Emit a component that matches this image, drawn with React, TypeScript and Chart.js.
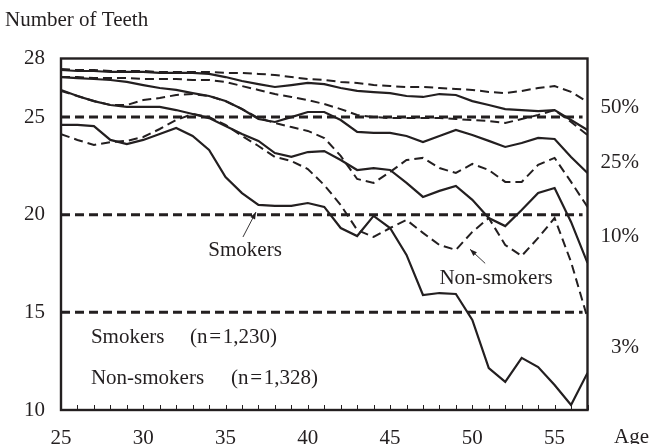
import React, { useEffect, useRef } from "react";
import { Chart, registerables } from "chart.js";

Chart.register(...registerables);

// ---------- data ----------
const ages = [25, 26, 27, 28, 29, 30, 31, 32, 33, 34, 35, 36, 37, 38, 39, 40, 41, 42, 43, 44, 45, 46, 47, 48, 49, 50, 51, 52, 53, 54, 55, 56, 57];

const smokers50 = [27.41, 27.36, 27.36, 27.31, 27.31, 27.31, 27.26, 27.26, 27.26, 27.21, 27.05, 26.85, 26.69, 26.54, 26.64, 26.75, 26.69, 26.49, 26.34, 26.28, 26.23, 26.08, 26.03, 26.18, 26.13, 25.82, 25.62, 25.41, 25.36, 25.31, 25.36, 24.85, 24.34];
const smokers25 = [27.05, 27.0, 26.95, 26.9, 26.8, 26.64, 26.49, 26.39, 26.23, 26.08, 25.82, 25.41, 24.9, 24.75, 25.0, 25.26, 25.26, 24.85, 24.24, 24.19, 24.19, 24.03, 23.72, 24.03, 24.34, 24.08, 23.78, 23.47, 23.67, 23.93, 23.88, 22.96, 22.14];
const smokers10 = [26.39, 26.08, 25.82, 25.62, 25.52, 25.52, 25.52, 25.36, 25.16, 24.95, 24.54, 24.13, 23.78, 23.16, 22.96, 23.21, 23.26, 22.8, 22.29, 22.39, 22.29, 21.63, 20.91, 21.22, 21.47, 20.76, 19.83, 19.42, 20.24, 21.11, 21.37, 19.63, 17.53];
const smokers3 = [24.6, 24.6, 24.54, 23.83, 23.62, 23.83, 24.13, 24.44, 24.03, 23.32, 21.93, 21.11, 20.5, 20.45, 20.45, 20.6, 20.4, 19.32, 18.91, 19.94, 19.32, 17.94, 15.89, 15.99, 15.94, 14.61, 12.15, 11.44, 12.67, 12.2, 11.28, 10.26, 11.9];

const nonSmokers50 = [27.46, 27.41, 27.41, 27.36, 27.36, 27.36, 27.31, 27.31, 27.31, 27.31, 27.26, 27.26, 27.21, 27.16, 27.05, 26.95, 26.9, 26.8, 26.75, 26.64, 26.59, 26.54, 26.54, 26.49, 26.44, 26.39, 26.29, 26.23, 26.34, 26.49, 26.59, 26.29, 25.77];
const nonSmokers25 = [27.05, 27.05, 27.0, 27.0, 27.0, 26.95, 26.95, 26.95, 26.9, 26.9, 26.8, 26.59, 26.39, 26.18, 26.03, 25.87, 25.67, 25.41, 25.11, 25.0, 24.95, 24.95, 24.95, 24.95, 24.9, 24.85, 24.8, 24.7, 24.9, 25.11, 25.36, 24.75, 24.08];
const nonSmokers10 = [26.34, 26.08, 25.82, 25.62, 25.62, 25.87, 25.98, 26.13, 26.18, 26.08, 25.82, 25.41, 24.95, 24.7, 24.49, 24.29, 23.93, 23.01, 21.83, 21.63, 22.19, 22.8, 22.91, 22.39, 22.14, 22.6, 22.29, 21.68, 21.68, 22.55, 22.91, 21.68, 20.4];
const nonSmokers3 = [24.13, 23.83, 23.57, 23.72, 23.78, 23.98, 24.39, 24.85, 25.16, 25.0, 24.6, 24.03, 23.52, 22.96, 22.75, 22.34, 21.52, 20.5, 19.22, 18.86, 19.32, 19.73, 19.07, 18.45, 18.2, 19.12, 19.83, 18.45, 17.89, 18.81, 19.83, 17.58, 14.71];

const yTickValues = [10, 15, 20, 25, 28];
const xTickValues = [25, 30, 35, 40, 45, 50, 55];
const referenceLevels = [15, 20, 25];
const referenceEndAge = 56.7;

const percentileLabels = ["50%", "25%", "10%", "3%"];
const percentileLabelValues = [25.47, 22.65, 18.91, 13.18];

// ---------- styling ----------
const INK = "#231f20";
const FONT = '"Liberation Serif", "Times New Roman", serif';
const FONT_SIZE = 21;

export default function App() {
  const ref = useRef<HTMLCanvasElement>(null);

  useEffect(() => {
    document.body.style.margin = "0";
    const canvas = ref.current!;
    const toPts = (vals: number[]) => ages.map((a, i) => ({ x: a, y: vals[i] }));
    const solid = (label: string, vals: number[]) => ({
      label,
      data: toPts(vals),
      borderColor: INK,
      borderWidth: 2.2,
      pointRadius: 0,
      tension: 0,
      fill: false,
    });
    const dashed = (label: string, vals: number[]) => ({ ...solid(label, vals), borderWidth: 2, borderDash: [9, 5] });
    const refSets = referenceLevels.map((lvl) => ({
      label: "ref" + lvl,
      data: [
        { x: ages[0], y: lvl },
        { x: referenceEndAge, y: lvl },
      ],
      borderColor: INK,
      borderWidth: 3,
      borderDash: [9, 5],
      pointRadius: 0,
      fill: false,
    }));

    const drawArrow = (ctx: CanvasRenderingContext2D, x1: number, y1: number, x2: number, y2: number) => {
      ctx.beginPath();
      ctx.lineWidth = 0.9;
      ctx.moveTo(x1, y1);
      ctx.lineTo(x2, y2);
      ctx.stroke();
      const ang = Math.atan2(y2 - y1, x2 - x1);
      const len = 7;
      const w = 2.6;
      ctx.beginPath();
      ctx.moveTo(x2, y2);
      ctx.lineTo(x2 - len * Math.cos(ang) + w * Math.sin(ang), y2 - len * Math.sin(ang) - w * Math.cos(ang));
      ctx.lineTo(x2 - len * Math.cos(ang) - w * Math.sin(ang), y2 - len * Math.sin(ang) + w * Math.cos(ang));
      ctx.closePath();
      ctx.fill();
    };

    const decor = {
      id: "decor",
      afterDatasetsDraw(chart: any) {
        const ctx: CanvasRenderingContext2D = chart.ctx;
        const { left, right, top, bottom } = chart.chartArea;
        const xs = chart.scales.x;
        const ys = chart.scales.y;
        const px = (a: number) => xs.getPixelForValue(a);
        const py = (v: number) => ys.getPixelForValue(v);
        ctx.save();
        ctx.strokeStyle = INK;
        ctx.fillStyle = INK;
        // frame
        ctx.lineWidth = 2.4;
        ctx.strokeRect(left, top, right - left, bottom - top);
        // inward minor ticks
        ctx.lineWidth = 1;
        for (const a of ages) {
          const x = Math.round(px(a)) + 0.5;
          ctx.beginPath();
          ctx.moveTo(x, bottom);
          ctx.lineTo(x, bottom - 5);
          ctx.stroke();
        }
        ctx.font = `${FONT_SIZE}px ${FONT}`;
        ctx.textBaseline = "middle";
        // axis titles
        ctx.textAlign = "left";
        ctx.fillText("Number of Teeth", 5, 20);
        ctx.fillText("Age", 614, 437);
        // percentile labels
        ctx.textAlign = "right";
        percentileLabels.forEach((t, i) => ctx.fillText(t, 639, py(percentileLabelValues[i])));
        // in-plot annotations
        ctx.textAlign = "center";
        ctx.fillText("Smokers", px(36.19), py(18.19));
        ctx.fillText("Non-smokers", px(51.44), py(16.76));
        ctx.textAlign = "left";
        ctx.fillText("Smokers", px(26.82), py(13.69));
        ctx.fillText("(n\u200A=\u200A1,230)", px(32.84), py(13.69));
        ctx.fillText("Non-smokers", px(26.82), py(11.59));
        ctx.fillText("(n\u200A=\u200A1,328)", px(35.33), py(11.59));
        drawArrow(ctx, px(36.06), py(18.86), px(36.85), py(20.14));
        drawArrow(ctx, px(50.78), py(17.51), px(49.86), py(18.23));
        ctx.restore();
      },
    };

    const chart = new Chart(canvas, {
      type: "line",
      data: {
        datasets: [
          ...refSets,
          solid("Smokers 50%", smokers50),
          solid("Smokers 25%", smokers25),
          solid("Smokers 10%", smokers10),
          solid("Smokers 3%", smokers3),
          dashed("Non-smokers 50%", nonSmokers50),
          dashed("Non-smokers 25%", nonSmokers25),
          dashed("Non-smokers 10%", nonSmokers10),
          dashed("Non-smokers 3%", nonSmokers3),
        ] as any,
      },
      options: {
        animation: false,
        responsive: false,
        devicePixelRatio: 1,
        layout: { padding: { top: 58.5, right: 62.5, left: 0, bottom: 0 } },
        plugins: { legend: { display: false }, tooltip: { enabled: false } },
        scales: {
          x: {
            type: "linear",
            min: 25,
            max: 57,
            grid: { display: false, drawTicks: false },
            border: { display: false },
            afterBuildTicks: (s: any) => {
              s.ticks = xTickValues.map((v) => ({ value: v }));
            },
            afterFit: (s: any) => {
              s.height = 34;
            },
            ticks: { padding: 16, color: INK, autoSkip: false, maxRotation: 0, font: { family: FONT, size: FONT_SIZE } },
          },
          y: {
            type: "linear",
            min: 10,
            max: 28,
            grid: { display: false, drawTicks: false },
            border: { display: false },
            afterBuildTicks: (s: any) => {
              s.ticks = yTickValues.map((v) => ({ value: v }));
            },
            afterFit: (s: any) => {
              s.width = 61;
            },
            ticks: { padding: 16, color: INK, font: { family: FONT, size: FONT_SIZE } },
          },
        },
      } as any,
      plugins: [decor],
    });
    return () => chart.destroy();
  }, []);

  return <canvas ref={ref} width={650} height={444} style={{ display: "block", width: 650, height: 444 }} />;
}
